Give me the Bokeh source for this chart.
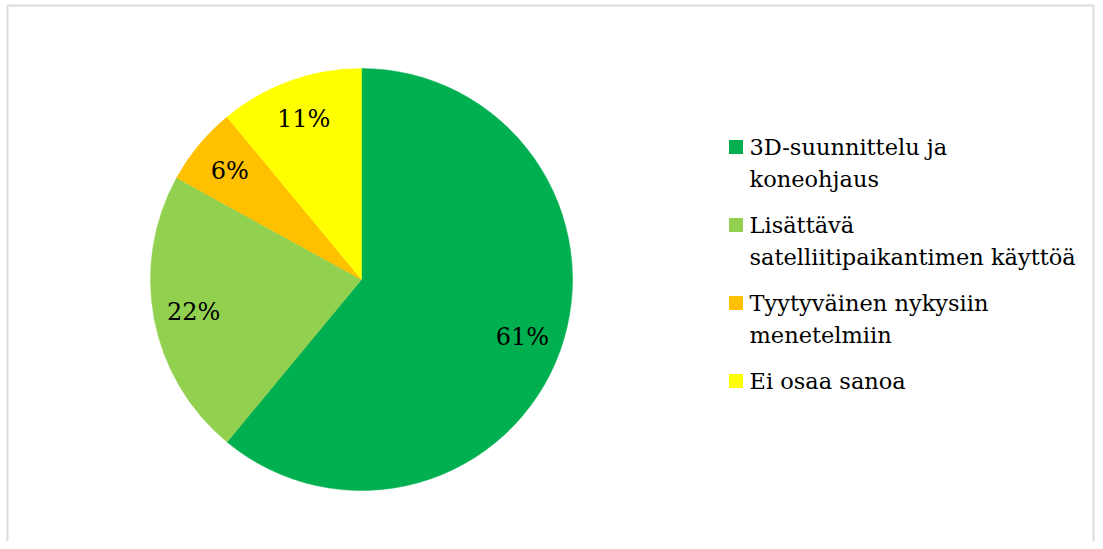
import math
from bokeh.plotting import figure
from bokeh.models import ColumnDataSource, Range1d, BoxAnnotation
from bokeh.core.properties import value
from bokeh.embed import file_html
from bokeh.resources import INLINE

# ---- data ----
categories = ["3D-suunnittelu ja\nkoneohjaus",
              "Lisättävä\nsatelliitipaikantimen käyttöä",
              "Tyytyväinen nykysiin\nmenetelmiin",
              "Ei osaa sanoa"]
values = [61, 22, 6, 11]
labels = ["61%", "22%", "6%", "11%"]
colors = ["#00B050", "#92D050", "#FFC000", "#FFFF00"]

FONT = "DejaVu Serif"
W, H = 1095, 541

p = figure(width=W, height=H, output_backend="svg", toolbar_location=None,
           x_range=Range1d(0, W), y_range=Range1d(0, H),
           min_border=0, outline_line_color=None)
p.axis.visible = False
p.grid.visible = False
p.background_fill_color = "white"
p.border_fill_color = "white"

# frame (bottom edge runs off the page, as in the reference)
p.add_layout(BoxAnnotation(left=7, right=1093, top=H - 5, bottom=-20,
                           fill_color=None, line_color="#888888", line_width=2))

# ---- pie ----
cx, cy, R = 361, H - 279, 211
total = sum(values)
starts, ends, lx, ly = [], [], [], []
cum = 0.0
for v in values:
    f0 = cum / total
    f1 = (cum + v) / total
    cum += v
    starts.append(math.pi / 2 - 2 * math.pi * f1)
    ends.append(math.pi / 2 - 2 * math.pi * f0)
    mid = math.pi / 2 - 2 * math.pi * (f0 + f1) / 2
    lx.append(cx + 0.81 * R * math.cos(mid))
    ly.append(cy + 0.81 * R * math.sin(mid))

src = ColumnDataSource(dict(start=starts, end=ends, color=colors,
                            lx=lx, ly=ly, label=labels,
                            x=[cx] * 4, y=[cy] * 4))
p.wedge(x="x", y="y", radius=R, start_angle="start", end_angle="end",
        fill_color="color", line_color="color", line_width=0.5, source=src)
p.text(x="lx", y="ly", text="label", source=src, text_font=value(FONT),
       text_font_size="24px", text_align="center", text_baseline="middle",
       text_color="black")

# ---- legend ----
first_baseline = H - 146
line_step = 32
entry_gap = 46
tx, ty, tt = [], [], []
mx, my, mc = [], [], []
b = first_baseline
for cat, col in zip(categories, colors):
    lines = cat.split("\n")
    mx.append(735.5)
    my.append(b - 0.5)
    mc.append(col)
    for i, ln in enumerate(lines):
        tx.append(749)
        ty.append(b)
        tt.append(ln)
        if i < len(lines) - 1:
            b -= line_step
    b -= entry_gap

p.rect(x=mx, y=my, width=14, height=14, fill_color=mc, line_color=None)
p.text(x=tx, y=ty, text=tt, text_font=value(FONT), text_font_size="22.5px",
       text_align="left", text_baseline="middle", text_color="black")

open("out.html", "w").write(file_html(p, INLINE))
